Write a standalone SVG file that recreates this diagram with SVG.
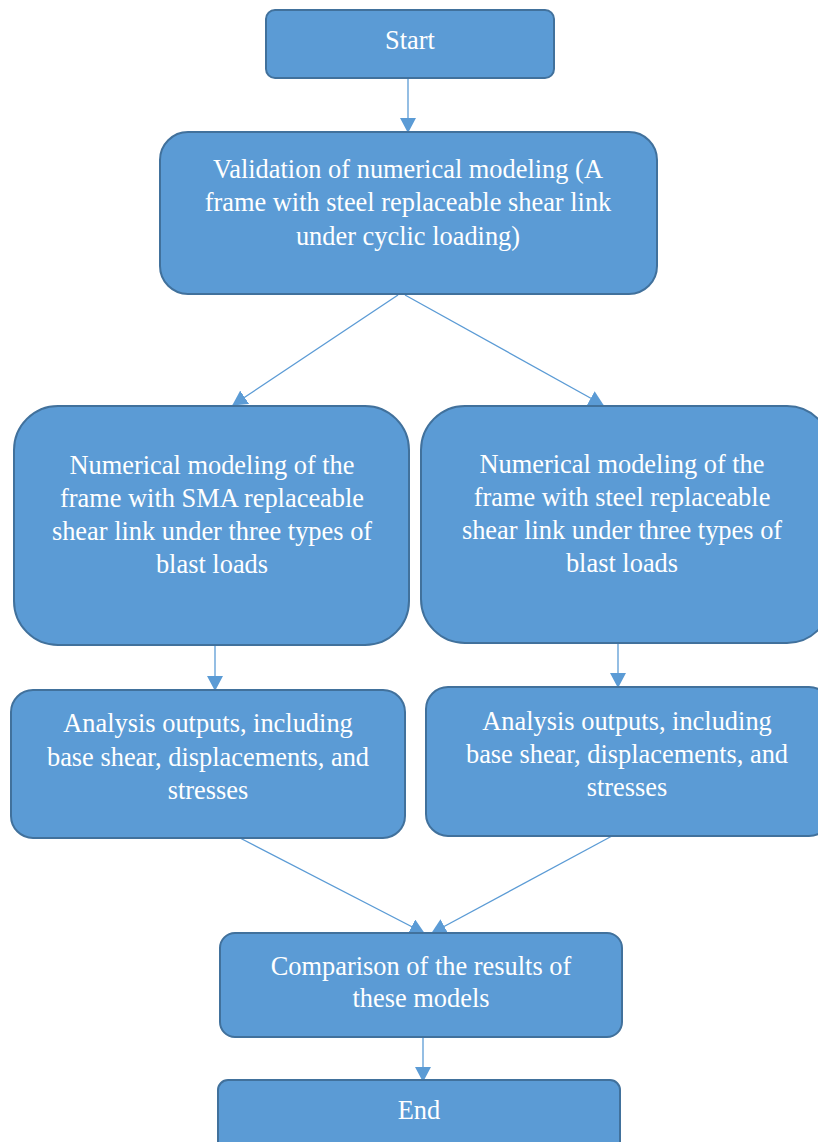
<svg xmlns="http://www.w3.org/2000/svg" width="818" height="1142" viewBox="0 0 818 1142">
<style>
.box{fill:#5b9bd5;stroke:#41719c;stroke-width:2}
.t{font-family:"Liberation Serif","Times New Roman",serif;font-size:26.4px;fill:#ffffff;text-anchor:middle}
.c{stroke:#5b9bd5;stroke-width:1.3;fill:none}
</style>
<defs>
<marker id="a" viewBox="0 0 15 16" refX="14" refY="8" markerWidth="15" markerHeight="16" markerUnits="userSpaceOnUse" orient="auto">
<path d="M0,0 L15,8 L0,16 z" fill="#5b9bd5"/>
</marker>
</defs>
<g id="connectors">
<line class="c" x1="408" y1="79" x2="408" y2="132" marker-end="url(#a)"/>
<line class="c" x1="398" y1="295" x2="233" y2="405" marker-end="url(#a)"/>
<line class="c" x1="405" y1="295" x2="603" y2="405" marker-end="url(#a)"/>
<line class="c" x1="215" y1="646" x2="215" y2="690" marker-end="url(#a)"/>
<line class="c" x1="618" y1="644" x2="618" y2="687" marker-end="url(#a)"/>
<line class="c" x1="240" y1="838" x2="424" y2="933" marker-end="url(#a)"/>
<line class="c" x1="612" y1="836" x2="432" y2="933" marker-end="url(#a)"/>
<line class="c" x1="423" y1="1038" x2="423" y2="1081" marker-end="url(#a)"/>
</g>
<g id="start">
<rect class="box" x="266" y="10" width="288" height="68" rx="9"/>
<text class="t" x="410" y="49">Start</text>
</g>
<g id="validation">
<rect class="box" x="160" y="132" width="497" height="162" rx="28"/>
<text class="t" x="408" y="178">Validation of numerical modeling (A</text>
<text class="t" x="408" y="211">frame with steel replaceable shear link</text>
<text class="t" x="408" y="245">under cyclic loading)</text>
</g>
<g id="sma">
<rect class="box" x="14" y="406" width="395" height="239" rx="44"/>
<text class="t" x="212" y="474">Numerical modeling of the</text>
<text class="t" x="212" y="507">frame with SMA replaceable</text>
<text class="t" x="212" y="540">shear link under three types of</text>
<text class="t" x="212" y="573">blast loads</text>
</g>
<g id="steel">
<rect class="box" x="421" y="406" width="410" height="237" rx="44"/>
<text class="t" x="622" y="473">Numerical modeling of the</text>
<text class="t" x="622" y="506">frame with steel replaceable</text>
<text class="t" x="622" y="539">shear link under three types of</text>
<text class="t" x="622" y="572">blast loads</text>
</g>
<g id="out-left">
<rect class="box" x="11" y="690" width="394" height="148" rx="22"/>
<text class="t" x="208" y="732">Analysis outputs, including</text>
<text class="t" x="208" y="766">base shear, displacements, and</text>
<text class="t" x="208" y="799">stresses</text>
</g>
<g id="out-right">
<rect class="box" x="426" y="687" width="405" height="149" rx="22"/>
<text class="t" x="627" y="730">Analysis outputs, including</text>
<text class="t" x="627" y="763">base shear, displacements, and</text>
<text class="t" x="627" y="796">stresses</text>
</g>
<g id="comparison">
<rect class="box" x="220" y="933" width="402" height="104" rx="15"/>
<text class="t" x="421" y="975">Comparison of the results of</text>
<text class="t" x="421" y="1007">these models</text>
</g>
<g id="end">
<rect class="box" x="218" y="1080" width="402" height="72" rx="10"/>
<text class="t" x="419" y="1119">End</text>
</g>
</svg>
